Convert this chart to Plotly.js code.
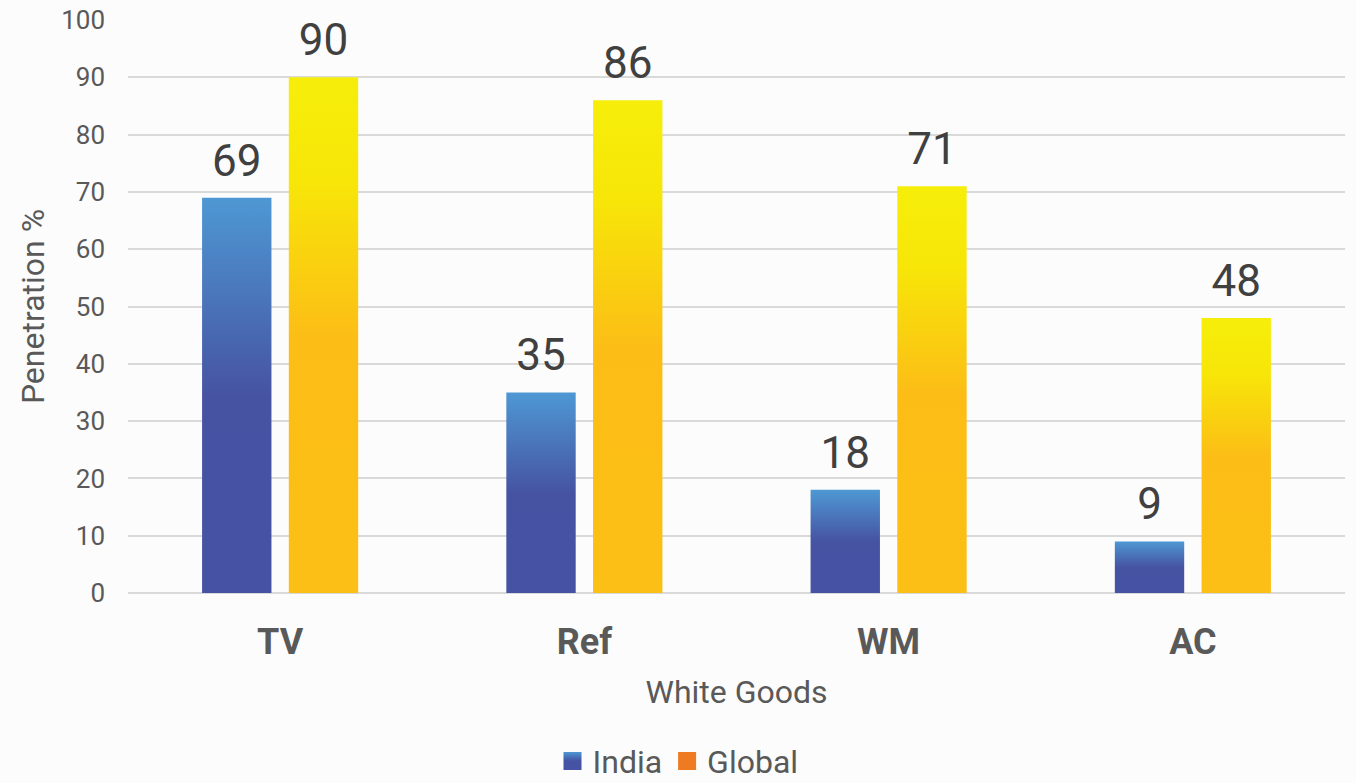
<!DOCTYPE html>
<html>
<head>
<meta charset="utf-8">
<script src="https://cdn.plot.ly/plotly-3.0.1.min.js"></script>
<style>
html,body{margin:0;padding:0;background:#fcfcfc;}
#chart{width:1356px;height:783px;}
</style>
</head>
<body>
<div id="chart"></div>
<script>
var categories = ["TV", "Ref", "WM", "AC"];
var indiaValues = [69, 35, 18, 9];
var globalValues = [90, 86, 71, 48];
var seriesNames = ["India", "Global"];

var font = "Roboto, 'Open Sans', sans-serif";

var traces = [
  {
    type: "bar", name: seriesNames[0], x: categories, y: indiaValues,
    marker: {color: "#4652A3"},
    text: indiaValues.map(String), textposition: "outside", cliponaxis: false,
    textfont: {size: 44, color: "#404040", family: font},
    hoverinfo: "x+y+name"
  },
  {
    type: "bar", name: seriesNames[1], x: categories, y: globalValues,
    marker: {color: "#EE7B22"},
    text: globalValues.map(String), textposition: "outside", cliponaxis: false,
    textfont: {size: 44, color: "#404040", family: font},
    hoverinfo: "x+y+name"
  }
];

var layout = {
  width: 1356, height: 783,
  paper_bgcolor: "#fcfcfc", plot_bgcolor: "#fcfcfc",
  font: {family: font, color: "#595959"},
  margin: {l: 128, r: 11, t: 20, b: 190},
  barmode: "group", bargap: 0.43, bargroupgap: 0.2,
  showlegend: true,
  legend: {
    orientation: "h", x: 0.5, xanchor: "center", xref: "container",
    y: 0.028, yanchor: "middle", yref: "container",
    font: {size: 32, color: "#595959", family: font},
    itemsizing: "constant", itemwidth: 30, traceorder: "normal"
  },
  xaxis: {
    type: "category",
    tickfont: {size: 36, color: "#595959", family: font, weight: "bold"},
    ticks: "", showgrid: false, zeroline: false, showline: false,
    ticklabelstandoff: 24,
    title: {text: "White Goods", font: {size: 32, color: "#595959", family: font}, standoff: 18}
  },
  yaxis: {
    range: [0, 100], dtick: 10, tick0: 0,
    tickfont: {size: 26, color: "#595959", family: font},
    ticks: "", showgrid: true, gridcolor: "#d9d9d9", gridwidth: 2,
    zeroline: true, zerolinecolor: "#d9d9d9", zerolinewidth: 2,
    showline: false, ticklabelstandoff: 22,
    title: {text: "Penetration %", font: {size: 32, color: "#595959", family: font}, standoff: 6}
  }
};

function addGradients(gd) {
  var svg = gd.querySelector("svg.main-svg");
  var ns = "http://www.w3.org/2000/svg";
  var defs = svg.querySelector("defs");
  if (!defs) { defs = document.createElementNS(ns, "defs"); svg.insertBefore(defs, svg.firstChild); }
  function grad(id, stops) {
    var g = document.createElementNS(ns, "linearGradient");
    g.setAttribute("id", id);
    g.setAttribute("x1", "0"); g.setAttribute("y1", "0");
    g.setAttribute("x2", "0"); g.setAttribute("y2", "1");
    stops.forEach(function (s) {
      var st = document.createElementNS(ns, "stop");
      st.setAttribute("offset", s[0]);
      st.setAttribute("stop-color", s[1]);
      g.appendChild(st);
    });
    defs.appendChild(g);
  }
  grad("gradIndia", [["0", "#4E98D4"], ["0.5", "#4653A3"], ["1", "#4652A3"]]);
  grad("gradGlobal", [["0", "#F6EE0A"], ["0.2", "#F7E608"], ["0.5", "#FCBE16"], ["1", "#FCBF15"]]);
  var traceGroups = gd.querySelectorAll(".barlayer .trace.bars");
  traceGroups.forEach(function (tg, i) {
    var id = i === 0 ? "gradIndia" : "gradGlobal";
    tg.querySelectorAll("path").forEach(function (p) { p.style.fill = "url(#" + id + ")"; });
    tg.querySelectorAll("text.bartext").forEach(function (t) {
      var tr = t.getAttribute("transform") || "";
      t.setAttribute("transform", "translate(0,-8) " + tr);
    });
  });
  var legendTraces = gd.querySelectorAll(".legend .traces");
  legendTraces.forEach(function (lt, i) {
    lt.querySelectorAll(".legendpoints path").forEach(function (p) {
      if (i === 0) p.style.fill = "url(#gradIndia)";
      var tr = p.getAttribute("transform") || "";
      p.setAttribute("transform", tr + " scale(1.5)");
    });
  });
}

Plotly.newPlot("chart", traces, layout, {displayModeBar: false, staticPlot: true}).then(function (gd) {
  addGradients(gd);
});
</script>
</body>
</html>
